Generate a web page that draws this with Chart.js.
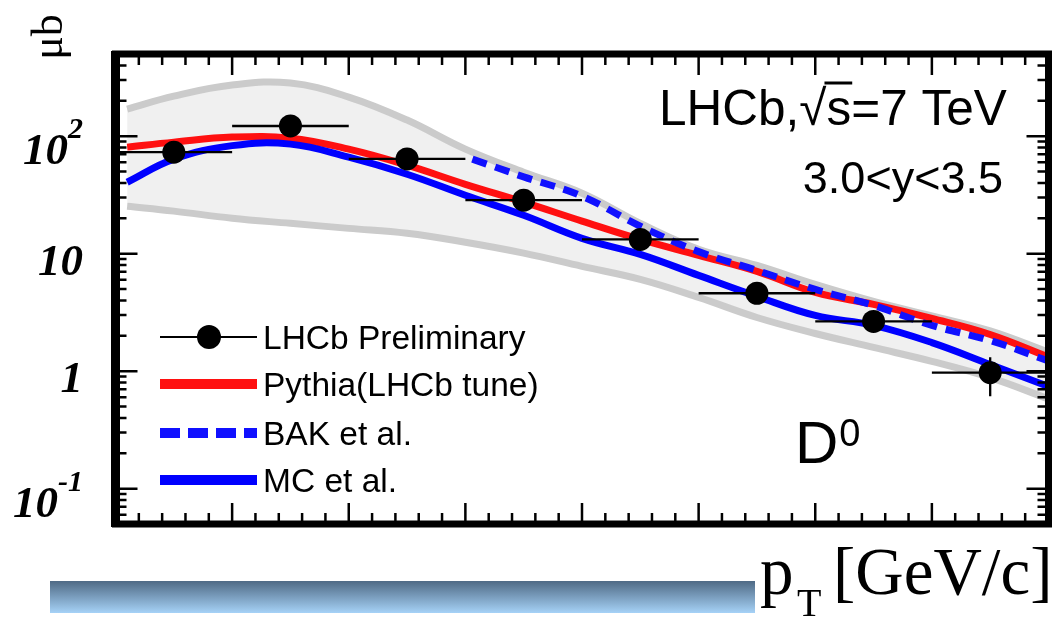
<!DOCTYPE html>
<html>
<head>
<meta charset="utf-8">
<script src="https://cdn.jsdelivr.net/npm/chart.js@4/dist/chart.umd.min.js"></script>
<style>
html, body { margin: 0; padding: 0; background: #fff; }
#wrap { width: 1053px; height: 618px; overflow: hidden; position: relative; }
</style>
</head>
<body>
<div id="wrap"><canvas id="chart" width="1060" height="618"></canvas></div>
<script>
// D0 cross-section vs pT, LHCb 3.0<y<3.5 (in µb)
const binLow = [0, 1, 2, 3, 4, 5, 6, 7];
const binHigh = [1, 2, 3, 4, 5, 6, 7, 8];
const lhcbValues = [73, 122, 64, 28.5, 13.2, 4.6, 2.65, 0.97];
const lhcbErrLow = [66, 112, 59, 26, 12, 4.2, 2.4, 0.61];
const lhcbErrHigh = [80, 132, 69, 31, 14.4, 5.0, 2.9, 1.31];

// theory curves
const curvePt = [0.1, 0.5, 1, 1.5, 2, 2.5, 3, 3.5, 4, 4.5, 5, 5.5, 6, 6.5, 7, 7.5, 8];
const pythiaValues = [80.6, 88.9, 98.1, 96.1, 77.5, 56.6, 38.9, 27.4, 18.9, 13.2, 9.67, 7.06, 4.68, 3.70, 2.81, 2.05, 1.32];
const mcValues = [40.5, 63.7, 83, 85.5, 66.2, 47.4, 31.4, 21.2, 13.5, 9.86, 6.53, 4.33, 2.98, 2.45, 1.75, 1.14, 0.74];
const bakPt = [3.06, 3.5, 4, 4.5, 5, 5.5, 6, 6.5, 7, 7.5, 8];
const bakValues = [63.7, 45, 30.8, 17.1, 10.4, 7.2, 4.96, 3.62, 2.45, 1.82, 1.22];
const bandUpper = [170, 219, 272, 283, 215, 137, 77.5, 49.3, 32.7, 18.1, 10.9, 7.94, 5.47, 3.92, 2.95, 2.2, 1.45];
const bandLower = [25.3, 23, 20, 18.1, 16.4, 14.9, 12.5, 10.1, 7.8, 6.04, 4.24, 2.86, 2.09, 1.59, 1.21, 0.88, 0.58];

const legendLabels = ['LHCb Preliminary', 'Pythia(LHCb tune)', 'BAK et al.', 'MC et al.'];
const yTickValues = [0.1, 1, 10, 100];
const yTickBase = ['10', '1', '10', '10'];
const yTickExp = ['-1', '', '', '2'];

function pts(xs, ys) {
    return xs.map(function (x, i) { return {x: x, y: ys[i]}; });
}

const errorBars = {
    id: 'errorBars',
    beforeDatasetDraw: function (chart, args) {
        if (args.index !== 0) return;
        const ctx = chart.ctx, xs = chart.scales.x, ys = chart.scales.y, a = chart.chartArea;
        ctx.save();
        ctx.beginPath();
        ctx.rect(a.left, a.top, a.right - a.left, a.bottom - a.top);
        ctx.clip();
        ctx.strokeStyle = '#000';
        ctx.lineWidth = 2.3;
        lhcbValues.forEach(function (v, i) {
            const yc = ys.getPixelForValue(v);
            const xc = xs.getPixelForValue((binLow[i] + binHigh[i]) / 2);
            ctx.beginPath();
            ctx.moveTo(xs.getPixelForValue(binLow[i]), yc);
            ctx.lineTo(xs.getPixelForValue(binHigh[i]), yc);
            ctx.moveTo(xc, ys.getPixelForValue(lhcbErrLow[i]));
            ctx.lineTo(xc, ys.getPixelForValue(lhcbErrHigh[i]));
            ctx.stroke();
        });
        ctx.restore();
    }
};

const decorations = {
    id: 'decorations',
    afterDraw: function (chart) {
        const ctx = chart.ctx, xs = chart.scales.x, ys = chart.scales.y, a = chart.chartArea;
        ctx.save();
        ctx.strokeStyle = '#000';
        ctx.fillStyle = '#000';

        // ticks
        ctx.lineWidth = 2.5;
        for (let k = 0; k <= 40; k++) {
            const v = k * 0.2;
            const px = xs.getPixelForValue(v);
            const len = (k % 5 === 0) ? 21 : 11;
            ctx.beginPath();
            ctx.moveTo(px, a.bottom); ctx.lineTo(px, a.bottom - len);
            ctx.moveTo(px, a.top); ctx.lineTo(px, a.top + len);
            ctx.stroke();
        }
        for (let d = -2; d <= 2; d++) {
            for (let m = 1; m <= 9; m++) {
                const v = m * Math.pow(10, d);
                if (v < ys.min * 1.001 || v > ys.max * 0.999) continue;
                const py = ys.getPixelForValue(v);
                const len = (m === 1) ? 22 : 11;
                ctx.beginPath();
                ctx.moveTo(a.left, py); ctx.lineTo(a.left + len, py);
                ctx.moveTo(a.right, py); ctx.lineTo(a.right - len, py);
                ctx.stroke();
            }
        }

        // frame
        ctx.lineWidth = 7;
        ctx.strokeRect(a.left, a.top, a.right - a.left, a.bottom - a.top);
        ctx.lineWidth = 9;
        ctx.beginPath();
        ctx.moveTo(a.left, a.top - 3); ctx.lineTo(a.left, a.bottom + 3);
        ctx.stroke();

        // y tick labels
        ctx.textAlign = 'left';
        ctx.textBaseline = 'alphabetic';
        yTickValues.forEach(function (v, i) {
            const py = ys.getPixelForValue(v);
            const exp = yTickExp[i];
            ctx.font = 'italic bold 30px "Liberation Serif"';
            const ew = exp ? ctx.measureText(exp).width : 0;
            ctx.font = 'italic bold 45px "Liberation Serif"';
            const bw = ctx.measureText(yTickBase[i]).width;
            const base = py + (exp ? 28 : 21);
            const xr = 83;
            ctx.fillText(yTickBase[i], xr - ew - bw, base);
            if (exp) {
                ctx.font = 'italic bold 30px "Liberation Serif"';
                ctx.fillText(exp, xr - ew, base - 26);
            }
        });

        // y axis title
        ctx.save();
        ctx.translate(50, 37);
        ctx.rotate(-Math.PI / 2);
        ctx.font = '44px "Liberation Serif"';
        ctx.textAlign = 'center';
        ctx.textBaseline = 'middle';
        ctx.fillText('\u03bcb', 0, 0);
        ctx.restore();

        // x axis title
        ctx.textAlign = 'left';
        ctx.font = '67px "Liberation Serif"';
        ctx.fillText('p', 760, 594);
        ctx.font = '40px "Liberation Serif"';
        ctx.fillText('T', 797, 616);
        ctx.font = '67px "Liberation Serif"';
        ctx.fillText('[GeV/c]', 833, 594);

        // experiment label
        ctx.font = '49.5px "Liberation Sans"';
        let x = 659;
        ctx.fillText('LHCb,', x, 125);
        x += ctx.measureText('LHCb,').width;
        ctx.fillText('\u221a', x, 125);
        x += ctx.measureText('\u221a').width;
        const sw = ctx.measureText('s').width;
        ctx.lineWidth = 3;
        ctx.beginPath();
        ctx.moveTo(x - 2, 83); ctx.lineTo(x + sw + 1, 83);
        ctx.stroke();
        ctx.fillText('s=7 TeV', x, 125);

        ctx.font = '45px "Liberation Sans"';
        ctx.textAlign = 'right';
        ctx.fillText('3.0<y<3.5', 1003, 193);

        ctx.textAlign = 'left';
        ctx.font = '60px "Liberation Sans"';
        ctx.fillText('D', 795, 463);
        const dw = ctx.measureText('D').width;
        ctx.font = '38px "Liberation Sans"';
        ctx.fillText('0', 795 + dw + 1, 446);

        // legend
        const ly = [337, 384, 433, 480];
        ctx.font = '33.5px "Liberation Sans"';
        legendLabels.forEach(function (t, i) {
            const y = ly[i];
            ctx.save();
            ctx.beginPath();
            if (i === 0) {
                ctx.strokeStyle = '#000'; ctx.lineWidth = 2;
                ctx.moveTo(160, y); ctx.lineTo(257, y); ctx.stroke();
                ctx.beginPath();
                ctx.arc(209, y, 12, 0, Math.PI * 2);
                ctx.fillStyle = '#000'; ctx.fill();
            } else {
                const ds = chart.data.datasets[i];
                ctx.strokeStyle = ds.borderColor;
                ctx.lineWidth = 10;
                if (ds.borderDash) ctx.setLineDash([20, 8]);
                ctx.moveTo(160, y); ctx.lineTo(257, y); ctx.stroke();
            }
            ctx.restore();
            ctx.fillStyle = '#000';
            ctx.fillText(t, 263, y + 12);
        });

        // bottom banner
        const g = ctx.createLinearGradient(0, 581, 0, 613);
        g.addColorStop(0, '#4f6a85');
        g.addColorStop(1, '#a6d2f7');
        ctx.fillStyle = g;
        ctx.fillRect(50, 581, 705, 32);

        ctx.restore();
    }
};

const ctx = document.getElementById('chart');
new Chart(ctx, {
    type: 'line',
    data: {
        datasets: [{
            label: legendLabels[0],
            data: pts(binLow.map(function (l, i) { return (l + binHigh[i]) / 2; }), lhcbValues),
            showLine: false,
            pointRadius: 11.5,
            pointBackgroundColor: '#000',
            pointBorderWidth: 0,
            order: 0
        }, {
            label: legendLabels[1],
            data: pts(curvePt, pythiaValues),
            borderColor: '#ff1010',
            borderWidth: 7,
            pointRadius: 0,
            tension: 0.4,
            order: 3
        }, {
            label: legendLabels[2],
            data: pts(bakPt, bakValues),
            borderColor: '#1010ff',
            borderWidth: 7,
            borderDash: [15, 9],
            pointRadius: 0,
            tension: 0.4,
            order: 1
        }, {
            label: legendLabels[3],
            data: pts(curvePt, mcValues),
            borderColor: '#0000ff',
            borderWidth: 7,
            pointRadius: 0,
            tension: 0.4,
            order: 2
        }, {
            label: 'band upper',
            data: pts(curvePt, bandUpper),
            borderColor: '#cbcbcb',
            borderWidth: 7,
            backgroundColor: '#f0f0f0',
            fill: '+1',
            pointRadius: 0,
            tension: 0.4,
            order: 4
        }, {
            label: 'band lower',
            data: pts(curvePt, bandLower),
            borderColor: '#cbcbcb',
            borderWidth: 7,
            pointRadius: 0,
            tension: 0.4,
            order: 5
        }]
    },
    options: {
        responsive: false,
        animation: false,
        layout: {
            padding: {left: 115.5, right: 4.5, top: 54, bottom: 94}
        },
        scales: {
            x: {type: 'linear', min: 0, max: 8, display: false},
            y: {type: 'logarithmic', min: 0.05, max: 500, display: false}
        },
        plugins: {
            legend: {display: false},
            tooltip: {enabled: false},
            filler: {drawTime: 'beforeDatasetsDraw'}
        }
    },
    plugins: [errorBars, decorations]
});
</script>
</body>
</html>
